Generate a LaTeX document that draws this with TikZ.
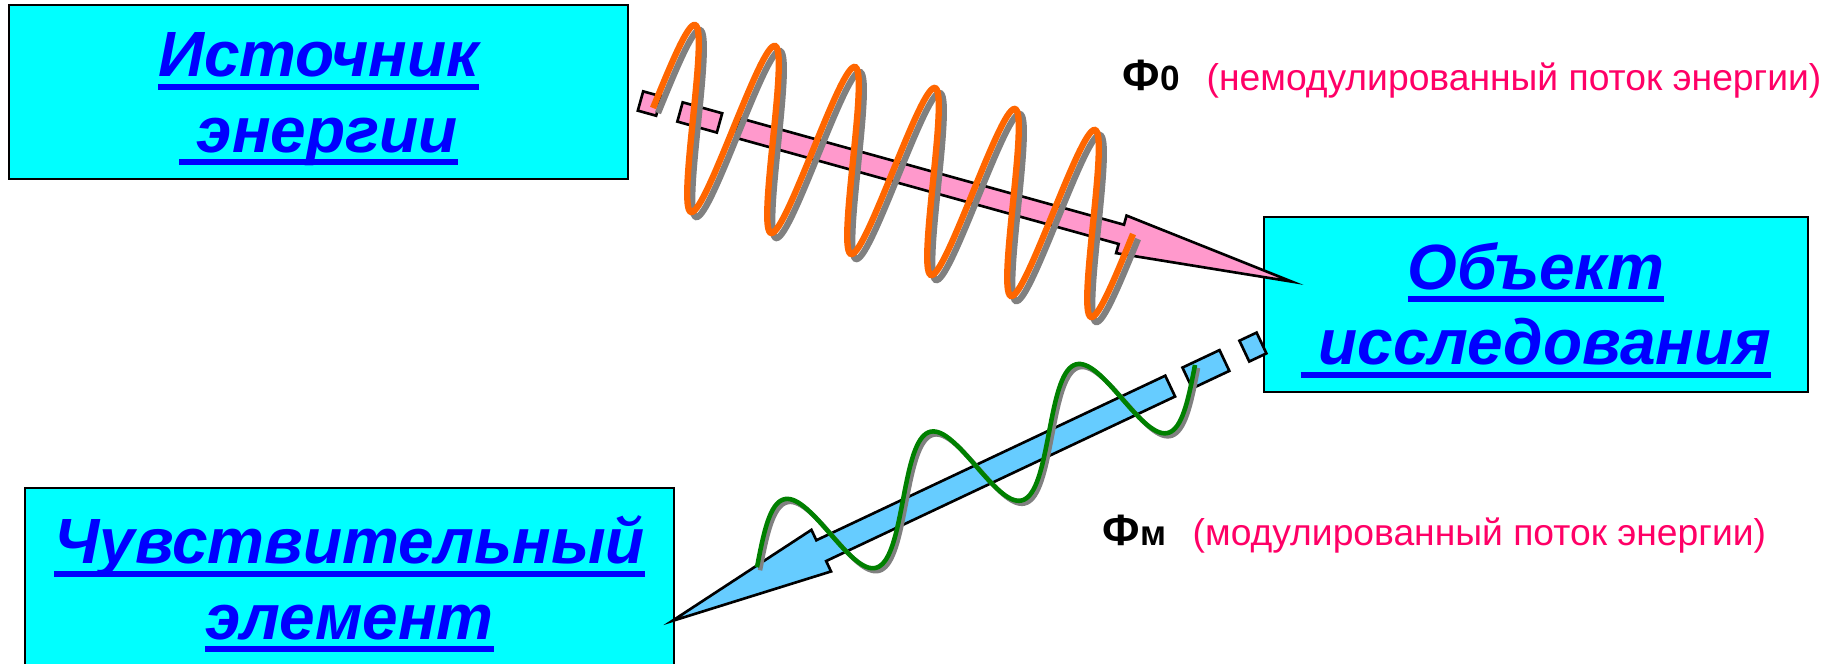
\documentclass[tikz,border=0pt]{standalone}
\usepackage{fontspec}
\setmainfont{Liberation Sans}
\definecolor{boxcyan}{RGB}{0,255,255}
\definecolor{titleblue}{RGB}{0,0,255}
\definecolor{notepink}{RGB}{255,0,102}
\definecolor{flowpink}{RGB}{255,153,204}
\definecolor{flowblue}{RGB}{102,204,255}
\definecolor{waveorange}{RGB}{255,102,0}
\definecolor{wavegreen}{RGB}{0,128,0}
\definecolor{waveshade}{RGB}{128,128,128}
% thick underline at a fixed distance below the baseline
\newcommand{\ulword}[1]{\setbox0\hbox{#1}\dp0=0pt\vtop{\copy0\kern2pt\hrule height1.7pt width\wd0}}
% flux symbol with its index
\newcommand{\fluxsym}[1]{{\bfseries\fontsize{12.5}{13}\selectfont Ф\fontsize{10}{11}\selectfont #1}}
% block arrow along +x: style, length, head base, half shaft, half head
\newcommand{\flowarrow}[5]{%
  \path[#1] (0,-#4) rectangle (19,#4);
  \path[#1] (41,-#4) rectangle (82,#4);
  \path[#1] (101,#4) -- (#3,#4) -- (#3,#5) -- (#2,0) -- (#3,-#5) -- (#3,-#4) -- (101,-#4) -- cycle;}
\begin{document}
\begin{tikzpicture}[x=0.1mm, y=0.1mm,
  objbox/.style={draw=black, line width=0.8pt, fill=boxcyan, inner sep=0pt, align=center,
    text=titleblue, text height=35pt, text depth=0.6pt,
    font=\fontsize{18.2}{21.6}\selectfont\bfseries\itshape},
  note/.style={anchor=base west, inner sep=0pt, font=\fontsize{10.6}{12}\selectfont},
  flowline/.style={draw=black, line width=0.75pt, line join=miter},
  wave/.style={line width=1.8pt},
  thinwave/.style={line width=1.3pt}]
\useasboundingbox (0,0) rectangle (1829,-663);
\clip (0,0) rectangle (1829,-663);

% the three blocks
\node[objbox, minimum width=61.9mm, minimum height=17.4mm] (source) at (318.5,-92)
  {\ulword{Источник}\\\ulword{\ энергии}};
\node[objbox, minimum width=54.4mm, minimum height=17.5mm] (object) at (1536,-304.5)
  {\ulword{Объект}\\\ulword{\ исследования}};
\node[objbox, minimum width=64.9mm, minimum height=18.2mm] (sensor) at (349.5,-579)
  {\ulword{Чувствительный}\\\ulword{элемент}};

% unmodulated flux: source -> object
\begin{scope}[shift={(640.5,-101)}, rotate=-15.5]
  \flowarrow{flowline, fill=flowpink}{676}{499}{10}{19.5}
\end{scope}
% modulated flux: object -> sensor
\begin{scope}[shift={(1261.5,-343)}, rotate=205.25]
  \flowarrow{flowline, fill=flowblue}{651.8}{486.8}{11.5}{23}
\end{scope}

% waves with their grey shadows
\draw[wave, waveshade, shift={(5,-5)}] plot[domain=-90:2070, samples=360, variable=\t]
  ({673+\t/360*80+22*cos(\t)}, {-113.25-\t/360*21+88.25*cos(\t)});
\draw[wave, waveorange] plot[domain=-90:2070, samples=360, variable=\t]
  ({673+\t/360*80+22*cos(\t)}, {-113.25-\t/360*21+88.25*cos(\t)});
\draw[thinwave, waveshade, shift={(3,-3)}] plot[domain=-90:990, samples=200, variable=\t]
  ({793.5+\t/360*146-11.5*cos(\t)}, {-550.4+\t/360*67.45+50.4*cos(\t)});
\draw[thinwave, wavegreen] plot[domain=-90:990, samples=200, variable=\t]
  ({793.5+\t/360*146-11.5*cos(\t)}, {-550.4+\t/360*67.45+50.4*cos(\t)});

% flux labels
\node[note] (fluxin) at (1122,-90) {\fluxsym{0}};
\node[note, text=notepink] (fluxinnote) at (1206,-90) {(немодулированный поток энергии)};
\node[note] (fluxout) at (1102,-545) {\fluxsym{м}};
\node[note, text=notepink] (fluxoutnote) at (1192,-545) {(модулированный поток энергии)};
\end{tikzpicture}
\end{document}
